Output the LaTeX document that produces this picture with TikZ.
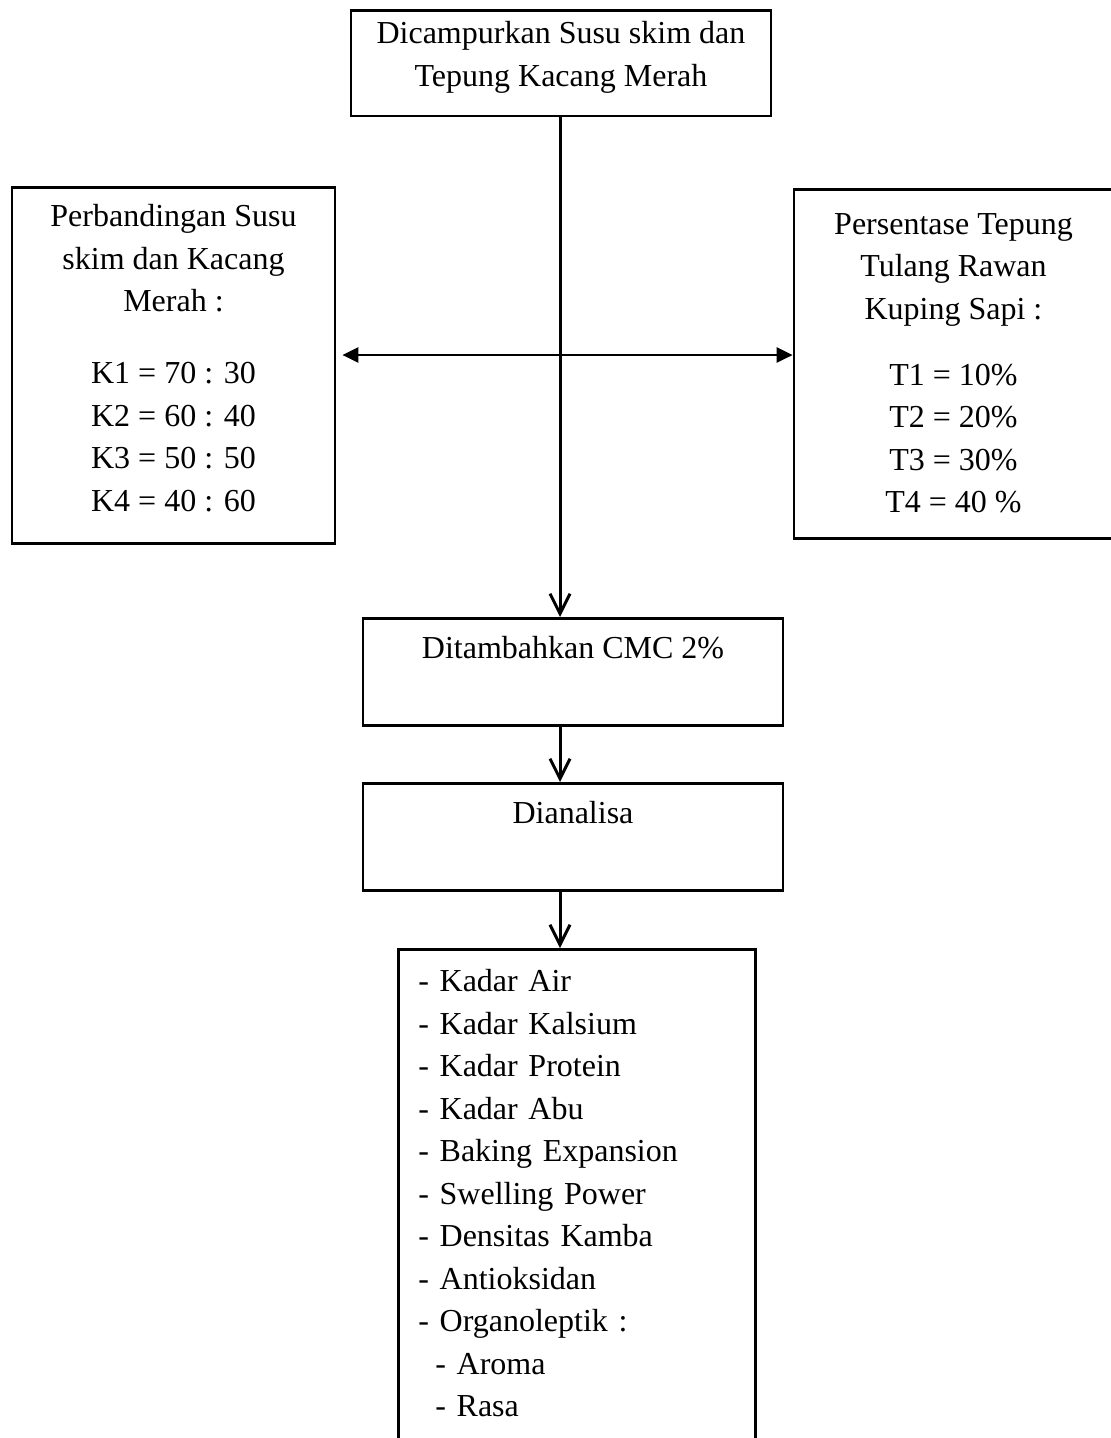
\documentclass[tikz,border=0pt]{standalone}
\usepackage{fontspec}
\setmainfont{Liberation Serif}
\usetikzlibrary{arrows.meta}
\tikzstyle{every node}=[font=\fontsize{32}{42.5}\selectfont]
\tikzstyle{every path}=[line width=2.7pt]
\tikzstyle{box}=[draw,anchor=north,align=center]
\tikzstyle{flow}=[line width=3pt,-{Straight Barb[length=20pt,width=20pt]}]
\tikzstyle{both}=[{Triangle[length=16pt,width=15pt]}-{Triangle[length=16pt,width=15pt]}]

\begin{document}
\begin{tikzpicture}[x=1pt,y=-1pt]
    \useasboundingbox (0,0) rectangle (1111,1438);

    % mixing step
    \node[box,minimum width=420pt,inner ysep=11pt,text depth=19pt] (mix) at (561,9)
        {Dicampurkan Susu skim dan\\Tepung Kacang Merah};

    % treatments on both sides
    \node[box,minimum width=323pt,inner ysep=17pt,text depth=15.5pt] (lbox) at (173.5,186)
        {Perbandingan Susu\\skim dan Kacang\\Merah :\\[29.5pt]K1 = 70 : 30\\K2 = 60 : 40\\K3 = 50 : 50\\K4 = 40 : 60};
    \node[box,minimum width=319pt,inner ysep=24pt,text depth=1.5pt] (rbox) at (953.5,188)
        {Persentase Tepung\\Tulang Rawan\\Kuping Sapi :\\[23.5pt]T1 = 10\%\\T2 = 20\%\\T3 = 30\%\\T4 = 40 \%};

    % following steps
    \node[box,minimum width=420pt,inner ysep=18pt,text depth=49pt] (add) at (573,617)
        {Ditambahkan CMC 2\%};
    \node[box,minimum width=420pt,inner ysep=18pt,text depth=49pt] (ana) at (573,782)
        {Dianalisa};
    % list of analyses, runs off the bottom
    \node[box,anchor=north west,align=left,text width=317pt,inner xsep=20pt,inner ysep=20pt,text depth=480pt] (res) at (397,948)
        {- Kadar Air\\- Kadar Kalsium\\- Kadar Protein\\- Kadar Abu\\- Baking Expansion\\- Swelling Power\\- Densitas Kamba\\- Antioksidan\\- Organoleptik :\\\hspace*{17pt}- Aroma\\\hspace*{17pt}- Rasa};

    % connectors
    \coordinate (spine) at (560,0);
    \coordinate (cross) at (560,355);
    \draw[flow] (spine |- mix.south) -- (spine |- add.north);
    \draw[flow] (spine |- add.south) -- (spine |- ana.north);
    \draw[flow] (spine |- ana.south) -- (spine |- res.north);
    \draw[both,shorten <=6pt] (lbox.east |- cross) -- (rbox.west |- cross);
\end{tikzpicture}
\end{document}
